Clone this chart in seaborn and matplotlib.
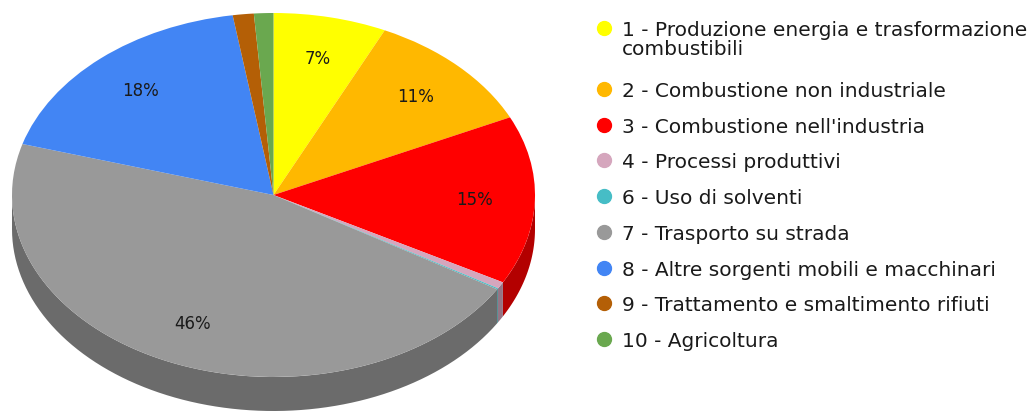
import numpy as np
import matplotlib
matplotlib.use('Agg')
import matplotlib.pyplot as plt
import seaborn as sns

# emission share by sector (%), clockwise from 12 o'clock
labels = ['1 - Produzione energia e trasformazione\ncombustibili',
          '2 - Combustione non industriale',
          "3 - Combustione nell'industria",
          '4 - Processi produttivi',
          '6 - Uso di solventi',
          '7 - Trasporto su strada',
          '8 - Altre sorgenti mobili e macchinari',
          '9 - Trattamento e smaltimento rifiuti',
          '10 - Agricoltura']
shares = [7.0, 11.0, 15.0, 0.6, 0.1, 45.9, 18.0, 1.3, 1.2]
colors = ['#FFFF00', '#FFB800', '#FF0000', '#D5A6BD', '#46BDC6',
          '#999999', '#4285F4', '#B45F06', '#6AA84F']

sns.set_theme(style='white')
plt.rcParams['font.family'] = ['DejaVu Sans']

W, H = 1033, 414
fig = plt.figure(figsize=(W / 100, H / 100), dpi=100)
ax = fig.add_axes([0, 0, 1, 1])

# pie geometry in pixels (top face ellipse)
cx, cy, rx, ry, depth = 273.5, 196.0, 261.5, 182.0, 34.0
d = depth / ry

pal = sns.color_palette(colors)
ax.pie(shares, colors=pal, startangle=90, counterclock=False,
       wedgeprops=dict(linewidth=0), radius=1)

# side walls (only the front half of the pie is visible)
vals = np.array(shares) / np.sum(shares) * 360
ends = np.cumsum(vals)
starts = ends - vals
for a, b, c in zip(starts, ends, pal):
    lo, hi = max(a, 90), min(b, 270)
    if hi <= lo:
        continue
    t = np.radians(np.linspace(lo, hi, 80))
    xs = np.concatenate([np.sin(t), np.sin(t[::-1])])
    ys = np.concatenate([np.cos(t), np.cos(t[::-1]) - d])
    dark = tuple(np.array(c) * 0.7)
    ax.fill(xs, ys, color=dark, lw=0, zorder=0)

# percentage labels
pct = vals / 360 * 100
for a, b, p in zip(starts, ends, pct):
    if p < 5:
        continue
    m = np.radians((a + b) / 2)
    ax.text(0.77 * np.sin(m), 0.77 * np.cos(m), f'{p:.0f}%',
            ha='center', va='center', fontsize=12, color='#1a1a1a')

ax.set_aspect('auto')
ax.set_xlim(-cx / rx, (W - cx) / rx)
ax.set_ylim((cy - H) / ry, cy / ry)
ax.axis('off')

# legend
lx, tx = 604, 622
rows = [29, 90, 126, 161, 197, 233, 269, 304, 340]
for y, lab, c in zip(rows, labels, pal):
    fig.add_artist(plt.Line2D([lx / W], [1 - y / H], marker='o', ms=10,
                              color=c, lw=0, transform=fig.transFigure))
    for i, line in enumerate(lab.split('\n')):
        fig.text(tx / W, 1 - (y + 7 + 19 * i) / H, line, ha='left',
                 va='baseline', fontsize=14.5, color='#1a1a1a')

fig.savefig('out.png', dpi=100)
